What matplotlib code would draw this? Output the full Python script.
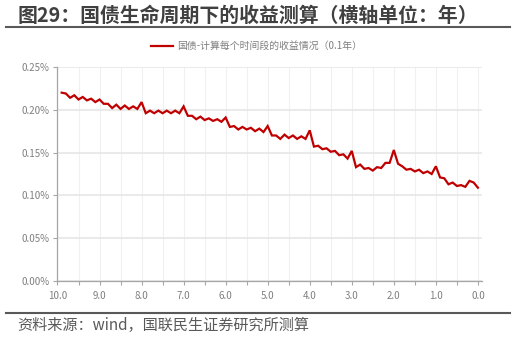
import numpy as np
import matplotlib
matplotlib.use("Agg")
import matplotlib.pyplot as plt
from matplotlib.lines import Line2D
from matplotlib.ticker import FuncFormatter, MultipleLocator

plt.rcParams['font.family'] = ['Noto Sans CJK SC', 'DejaVu Sans']

# 剩余期限（年），每 0.1 年一个点
years = np.round(np.arange(9.9, -0.05, -0.1), 1)

# 每个时间段的收益（%）
yields = [
    0.220, 0.219, 0.214, 0.217, 0.212, 0.215, 0.211, 0.213, 0.209, 0.212,
    0.207, 0.207, 0.202, 0.206, 0.201, 0.205, 0.201, 0.204, 0.201, 0.209,
    0.196, 0.199, 0.196, 0.199, 0.196, 0.199, 0.196, 0.199, 0.196, 0.204,
    0.193, 0.193, 0.189, 0.192, 0.188, 0.190, 0.187, 0.189, 0.186, 0.191,
    0.180, 0.181, 0.177, 0.180, 0.177, 0.179, 0.175, 0.178, 0.174, 0.181,
    0.170, 0.170, 0.166, 0.171, 0.167, 0.170, 0.166, 0.169, 0.166, 0.176,
    0.157, 0.158, 0.154, 0.155, 0.151, 0.152, 0.147, 0.148, 0.143, 0.152,
    0.133, 0.136, 0.131, 0.132, 0.129, 0.133, 0.132, 0.138, 0.138, 0.153,
    0.137, 0.134, 0.130, 0.131, 0.128, 0.130, 0.126, 0.128, 0.125, 0.134,
    0.121, 0.120, 0.113, 0.115, 0.111, 0.112, 0.110, 0.117, 0.115, 0.109,
]

x_labels = ["10.0", "9.0", "8.0", "7.0", "6.0", "5.0", "4.0", "3.0", "2.0", "1.0", "0.0"]
y_ticks = [0.00, 0.05, 0.10, 0.15, 0.20, 0.25]

title = "图29：国债生命周期下的收益测算（横轴单位：年）"
series_name = "国债-计算每个时间段的收益情况（0.1年）"
source = "资料来源：wind，国联民生证券研究所测算"

fig = plt.figure(figsize=(5.16, 3.38), dpi=100)
ax = fig.add_axes([0.1114, 0.1686, 0.8221, 0.6332])

ax.plot(years, yields, color="#C00000", lw=1.6, solid_joinstyle="miter")

ax.set_xlim(10, -0.09)
ax.set_ylim(0, 0.25)
ax.set_yticks(y_ticks)
ax.yaxis.set_major_formatter(FuncFormatter(lambda v, p: f"{v:.2f}%"))
ax.set_xticks(np.arange(10, -0.01, -1.0))
ax.set_xticklabels(x_labels)
ax.xaxis.set_minor_locator(MultipleLocator(0.5))

ax.grid(axis="y", which="major", color="#e6e6e6", lw=1.2)
ax.grid(axis="x", which="both", color="#f0f0f0", lw=0.8)
ax.set_axisbelow(True)

for s in ["top", "right"]:
    ax.spines[s].set_visible(False)
for s in ["left", "bottom"]:
    ax.spines[s].set_color("#a6a6a6")
    ax.spines[s].set_linewidth(0.9)

ax.tick_params(axis="both", which="both", colors="#a6a6a6", labelcolor="#7f7f7f",
               labelsize=7, length=3, width=0.8)
ax.tick_params(axis="x", pad=4)
ax.tick_params(axis="y", pad=3)

leg_handle = Line2D([], [], color="#C00000", lw=1.6)
fig.legend([leg_handle], [series_name], loc="center", bbox_to_anchor=(0.497, 0.864),
           frameon=False, fontsize=7.1, labelcolor="#7f7f7f", handlelength=2.2,
           handletextpad=0.4)

fig.text(0.034, 0.953, title, fontsize=14.3, fontweight="bold", color="#404040",
         ha="left", va="center")
fig.add_artist(Line2D([0.012, 0.988], [0.919, 0.919], color="#595959", lw=1.5))
fig.add_artist(Line2D([0.012, 0.988], [0.074, 0.074], color="#595959", lw=1.5))
fig.text(0.033, 0.036, source, fontsize=10.9, color="#595959", ha="left", va="center")

fig.savefig("out.png", dpi=100)
